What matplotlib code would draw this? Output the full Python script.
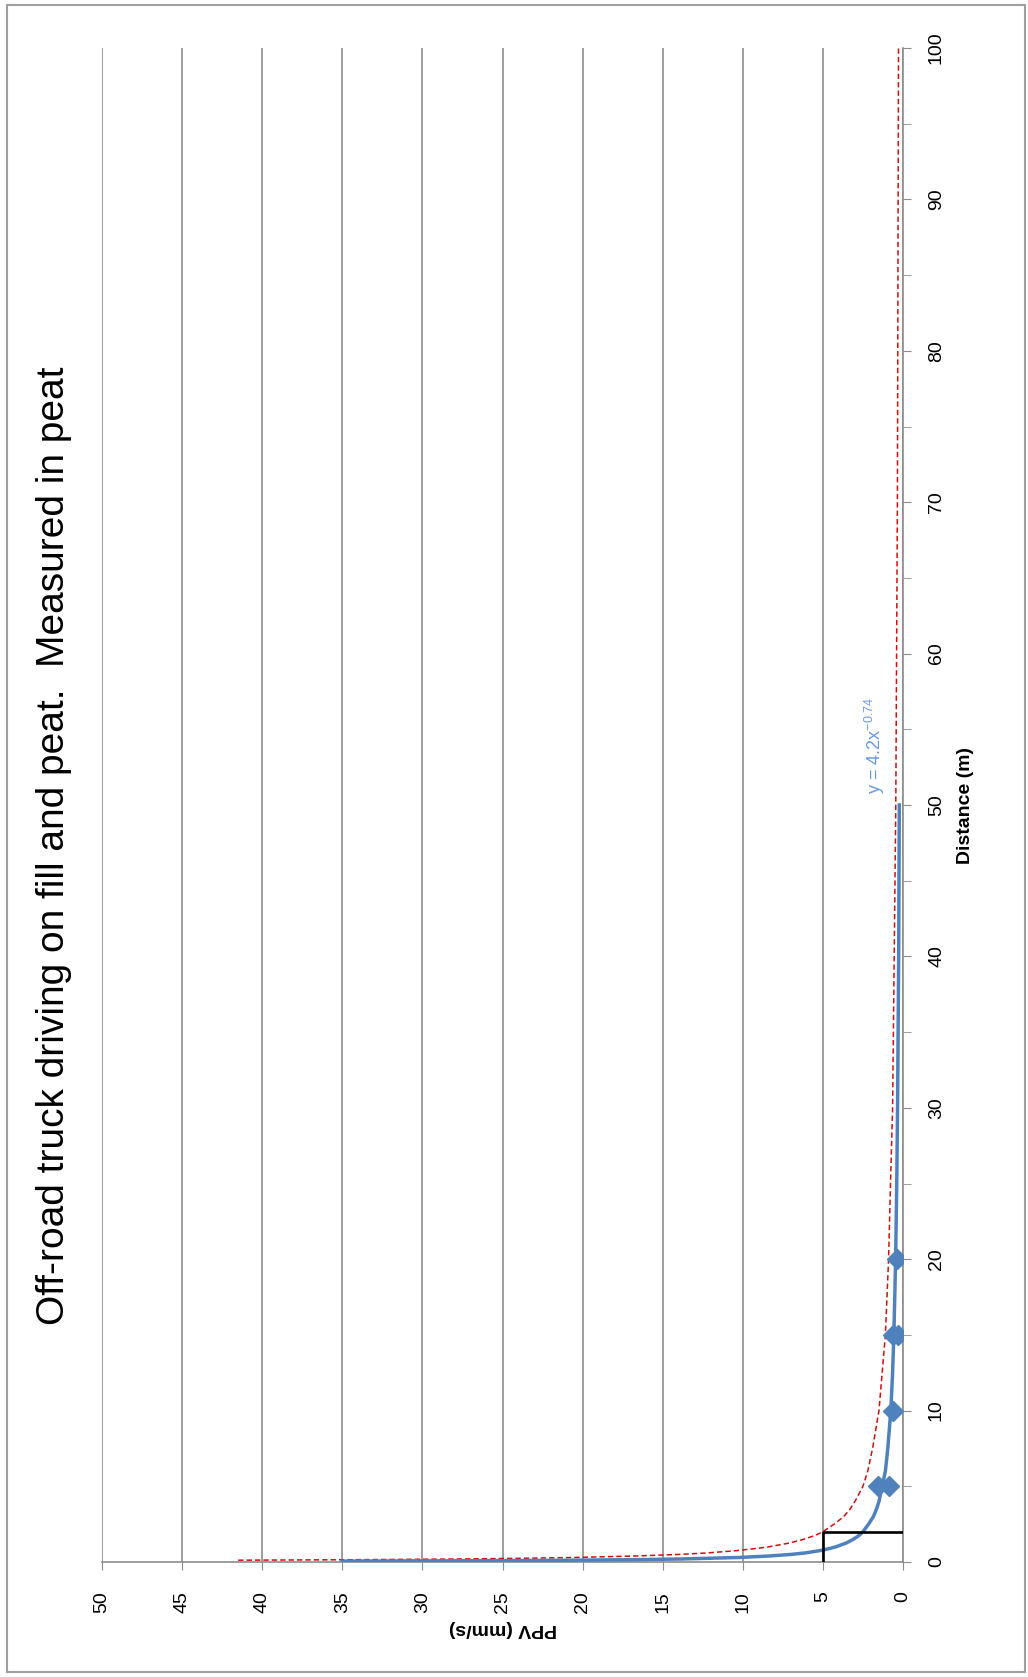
import numpy as np
import matplotlib
matplotlib.use("Agg")
import matplotlib.pyplot as plt
from matplotlib.patches import Rectangle
from matplotlib.ticker import MultipleLocator

plt.rcParams['font.family'] = ['Liberation Sans Narrow', 'Liberation Sans', 'DejaVu Sans']

# measured points (distance m, PPV mm/s)
meas_dist = [5, 5, 10, 15, 15, 20]
meas_ppv = [1.55, 0.85, 0.62, 0.65, 0.3, 0.37]

# power trendline y = 4.2x^-0.74
trend_dist = [0.057, 0.08, 0.1, 0.15, 0.2, 0.3, 0.4, 0.5, 0.6, 0.75, 0.9, 1,
              1.25, 1.5, 1.75, 2, 2.5, 3, 3.5, 4, 5, 6, 7.5, 10, 12.5,
              15, 20, 25, 30, 40, 50]
trend_ppv = [35.0, 27.5, 23.0, 17.0, 13.8, 10.2, 8.3, 7.0, 6.1, 5.2, 4.55, 4.2,
             3.55, 3.1, 2.75, 2.5, 2.15, 1.85, 1.65, 1.5, 1.3, 1.1, 0.95, 0.76,
             0.65, 0.57, 0.46, 0.39, 0.34, 0.27, 0.23]

# red dashed upper line
upper_dist = [0.12, 0.15, 0.2, 0.25, 0.3, 0.4, 0.5, 0.6, 0.75, 0.9, 1, 1.25,
              1.5, 1.75, 2, 2.5, 3, 3.5, 4, 5, 6, 7.5, 10, 12.5, 15,
              20, 25, 30, 40, 50, 70, 100]
upper_ppv = [41.5, 34.5, 27.6, 23.5, 20.5, 16.6, 14.0, 12.2, 10.4, 9.1, 8.4,
             7.1, 6.2, 5.5, 5.0, 4.3, 3.7, 3.3, 3.0, 2.5, 2.2, 1.9, 1.5, 1.3,
             1.1, 0.9, 0.78, 0.65, 0.55, 0.45, 0.35, 0.28]

# black limit marker
limit_ppv = [0, 5, 5]
limit_dist = [2, 2, 0]

W, H = 1028, 1677
fig = plt.figure(figsize=(W / 100, H / 100), dpi=100)
ax = fig.add_axes([102 / W, 1 - 1562 / H, (903 - 102) / W, (1562 - 48) / H])

blue = '#4F81BD'
ax.plot(upper_ppv, upper_dist, color='#CC1111', lw=1.1, ls=(0, (3.5, 2)), zorder=3)
ax.plot(trend_ppv, trend_dist, color=blue, lw=2.5, zorder=4)
ax.plot(meas_ppv, meas_dist, ls='none', marker='D', ms=10.5, color=blue,
        mec=blue, zorder=5)
ax.plot(limit_ppv, limit_dist, color='black', lw=1.9, zorder=6)

ax.set_xlim(50, 0)
ax.set_ylim(0, 100)
ax.xaxis.set_major_locator(MultipleLocator(5))
ax.yaxis.set_major_locator(MultipleLocator(10))
ax.yaxis.set_minor_locator(MultipleLocator(5))
ax.yaxis.tick_right()
ax.yaxis.set_label_position('right')

gray = '#8C8C8C'
for s in ['left', 'top']:
    ax.spines[s].set_visible(False)
for s in ['right', 'bottom']:
    ax.spines[s].set_color(gray)
    ax.spines[s].set_linewidth(1.2)

ax.grid(axis='x', color=gray, lw=1.2)
ax.tick_params(axis='x', direction='out', length=6, color=gray, pad=15,
               labelsize=14, labelrotation=90)
ax.tick_params(axis='y', which='both', direction='out', length=6, color=gray,
               pad=12, labelsize=14, labelrotation=90)
for lab in ax.get_yticklabels():
    lab.set_va('center')

ax.set_xlabel('PPV (mm/s)', rotation=180, fontsize=14, fontweight='bold',
              labelpad=5)
ax.set_ylabel('Distance (m)', rotation=90, fontsize=14, fontweight='bold',
              labelpad=9)

ax.text(1.75, 50.7, r'y = 4.2x$^{\mathregular{-0.74}}$', rotation=90,
        color='#6A9AE0', fontsize=13, ha='center', va='bottom')

fig.text(54 / W, 1 - 846 / H,
         'Off-road truck driving on fill and peat.  Measured in peat',
         rotation=90, fontsize=28, ha='center', va='center')

fig.add_artist(Rectangle((7 / W, 5 / H), 1018 / W, 1667 / H,
                         transform=fig.transFigure, fill=False,
                         edgecolor='#A0A0A0', lw=1.5))

fig.savefig('out.png', dpi=100)
